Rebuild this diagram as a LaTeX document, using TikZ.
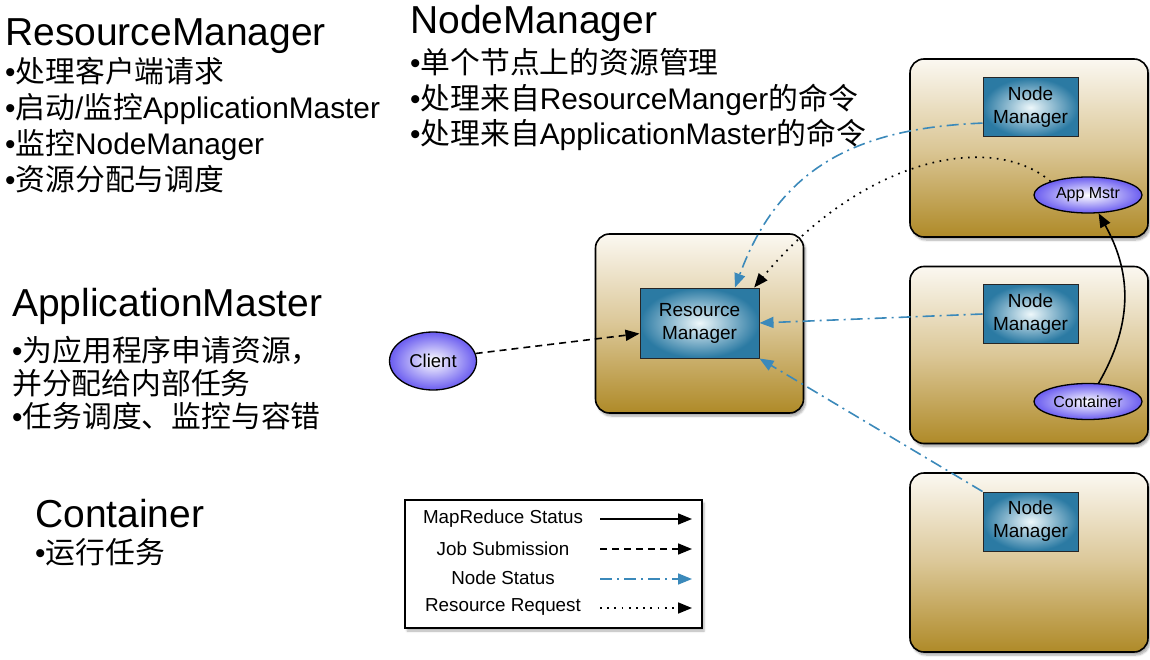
\documentclass[tikz,border=0pt]{standalone}
\usepackage{fontspec}
\setmainfont{Liberation Sans}
\newfontfamily\cjk{Noto Sans CJK SC}
\usetikzlibrary{arrows.meta,shadows.blur,shapes.geometric}
\definecolor{goldtop}{HTML}{FBF8F1}
\definecolor{goldmid}{HTML}{DBC797}
\definecolor{goldbot}{HTML}{AF8A28}
\definecolor{nmouter}{HTML}{2B7AA3}
\definecolor{nminner}{HTML}{EEF8FB}
\definecolor{purpout}{HTML}{6A5CF0}
\definecolor{statblue}{HTML}{3B89BA}
\tikzset{
  hostbox/.style={draw=black, line width=1.6pt, rounded corners=14pt,
    top color=goldtop, bottom color=goldbot, middle color=goldmid,
    blur shadow={shadow xshift=2pt, shadow yshift=-3pt, shadow blur steps=6, shadow opacity=35},
    inner sep=0pt},
  mgrbox/.style={draw=black!85, line width=1pt, inner color=nminner, outer color=nmouter,
    minimum width=95pt, minimum height=59pt, inner sep=0pt, align=center,
    font=\fontsize{19}{23}\selectfont},
  ellip/.style={ellipse, draw=black, line width=1.3pt, inner color=white, outer color=purpout,
    minimum width=108pt, minimum height=36pt, inner sep=0pt, font=\fontsize{16}{19}\selectfont},
  title/.style={anchor=base west, inner sep=0pt, font=\fontsize{39}{45}\selectfont},
  body/.style={anchor=base west, inner sep=0pt, font=\fontsize{29.8}{34}\selectfont},
  legtxt/.style={inner sep=0pt, font=\fontsize{18.8}{22}\selectfont},
  tip/.style={-{Triangle[length=14pt,width=11pt]}},
  mrs/.style={tip, line width=1.6pt, black},
  job/.style={tip, line width=1.6pt, black, dash pattern=on 7pt off 5pt},
  nstat/.style={tip, line width=1.6pt, statblue, dash pattern=on 12pt off 5pt on 2pt off 5pt},
  rreq/.style={tip, line width=1.7pt, black, dash pattern=on 1.7pt off 5.5pt},
}
\begin{document}
\begin{tikzpicture}[x=1pt,y=-1pt]
\useasboundingbox (0,0) rectangle (1150,660);

% left texts
\node[title] (t1) at (5,46) {ResourceManager};
\node[body] (t1a) at (5,83) {•{\cjk 处理客户端请求}};
\node[body] (t1b) at (5,119) {•{\cjk 启动}/{\cjk 监控}ApplicationMaster};
\node[body] (t1c) at (5,155) {•{\cjk 监控}NodeManager};
\node[body] (t1d) at (5,191) {•{\cjk 资源分配与调度}};

\node[title] (t2) at (12,316) {ApplicationMaster};
\node[body] (t2a) at (12,361) {•{\cjk 为应用程序申请资源，}};
\node[body] (t2b) at (12,394) {{\cjk 并分配给内部任务}};
\node[body] (t2c) at (12,427) {•{\cjk 任务调度、监控与容错}};

\node[title] (t3) at (35,527) {Container};
\node[body] (t3a) at (35,563) {•{\cjk 运行任务}};

\node[title] (t4) at (410,34) {NodeManager};
\node[body] (t4a) at (410,74) {•{\cjk 单个节点上的资源管理}};
\node[body] (t4b) at (410,110) {•{\cjk 处理来自}ResourceManger{\cjk 的命令}};
\node[body] (t4c) at (410,145) {•{\cjk 处理来自}ApplicationMaster{\cjk 的命令}};

% host boxes
\node[hostbox, minimum width=208pt, minimum height=179pt] (rmhost) at (699.5,323.5) {};
\node[hostbox, minimum width=238pt, minimum height=178pt] (h1) at (1029,148) {};
\node[hostbox, minimum width=238pt, minimum height=177pt] (h2) at (1029,355) {};
\node[hostbox, minimum width=238pt, minimum height=179pt] (h3) at (1029,562.5) {};

% managers
\node[mgrbox, minimum width=119pt, minimum height=70pt] (rm) at (699.5,323) {Resource\\Manager};
\node[mgrbox] (nm1) at (1030.5,107.5) {Node\\Manager};
\node[mgrbox] (nm2) at (1030.5,314) {Node\\Manager};
\node[mgrbox] (nm3) at (1030.5,521.5) {Node\\Manager};

% ellipses
\node[ellip] (am) at (1088,195) {App Mstr};
\node[ellip] (ct) at (1088,401.5) {Container};
\node[ellip, minimum width=87pt, minimum height=58pt, font=\fontsize{18.5}{21}\selectfont] (client) at (433,361) {Client};

% connectors
\draw[job] (client.10) -- (rm.190);
\draw[nstat] (nm2.west) -- (rm.east);
\draw[nstat] (nm3.north west) -- (rm.south east);
\draw[nstat] (nm1.198) .. controls (860,128) and (780,165) .. (rm.45);
\draw[rreq] (am.160) .. controls (990,130) and (860,160) .. (rm.33);
\draw[mrs] (ct.60) .. controls (1135,320) and (1130,270) .. (am.-60);

% legend
\node[draw=black, line width=1.3pt, fill=white, minimum width=297pt, minimum height=128pt, inner sep=0pt,
  blur shadow={shadow xshift=2pt, shadow yshift=-3pt, shadow blur steps=5, shadow opacity=30}] (leg) at (553.5,564) {};
\node[legtxt] (l1) at (503,519) {MapReduce Status};
\node[legtxt] (l2) at (503,549) {Job Submission};
\node[legtxt] (l3) at (503,578) {Node Status};
\node[legtxt] (l4) at (503,607) {Resource Request};
\coordinate (l1a) at (600,519); \coordinate (l1b) at (692,519);
\coordinate (l2a) at (600,549); \coordinate (l2b) at (692,549);
\coordinate (l3a) at (600,579); \coordinate (l3b) at (692,579);
\coordinate (l4a) at (600,608); \coordinate (l4b) at (692,608);
\draw[mrs] (l1a) -- (l1b);
\draw[job] (l2a) -- (l2b);
\draw[nstat] (l3a) -- (l3b);
\draw[rreq] (l4a) -- (l4b);
\end{tikzpicture}
\end{document}
